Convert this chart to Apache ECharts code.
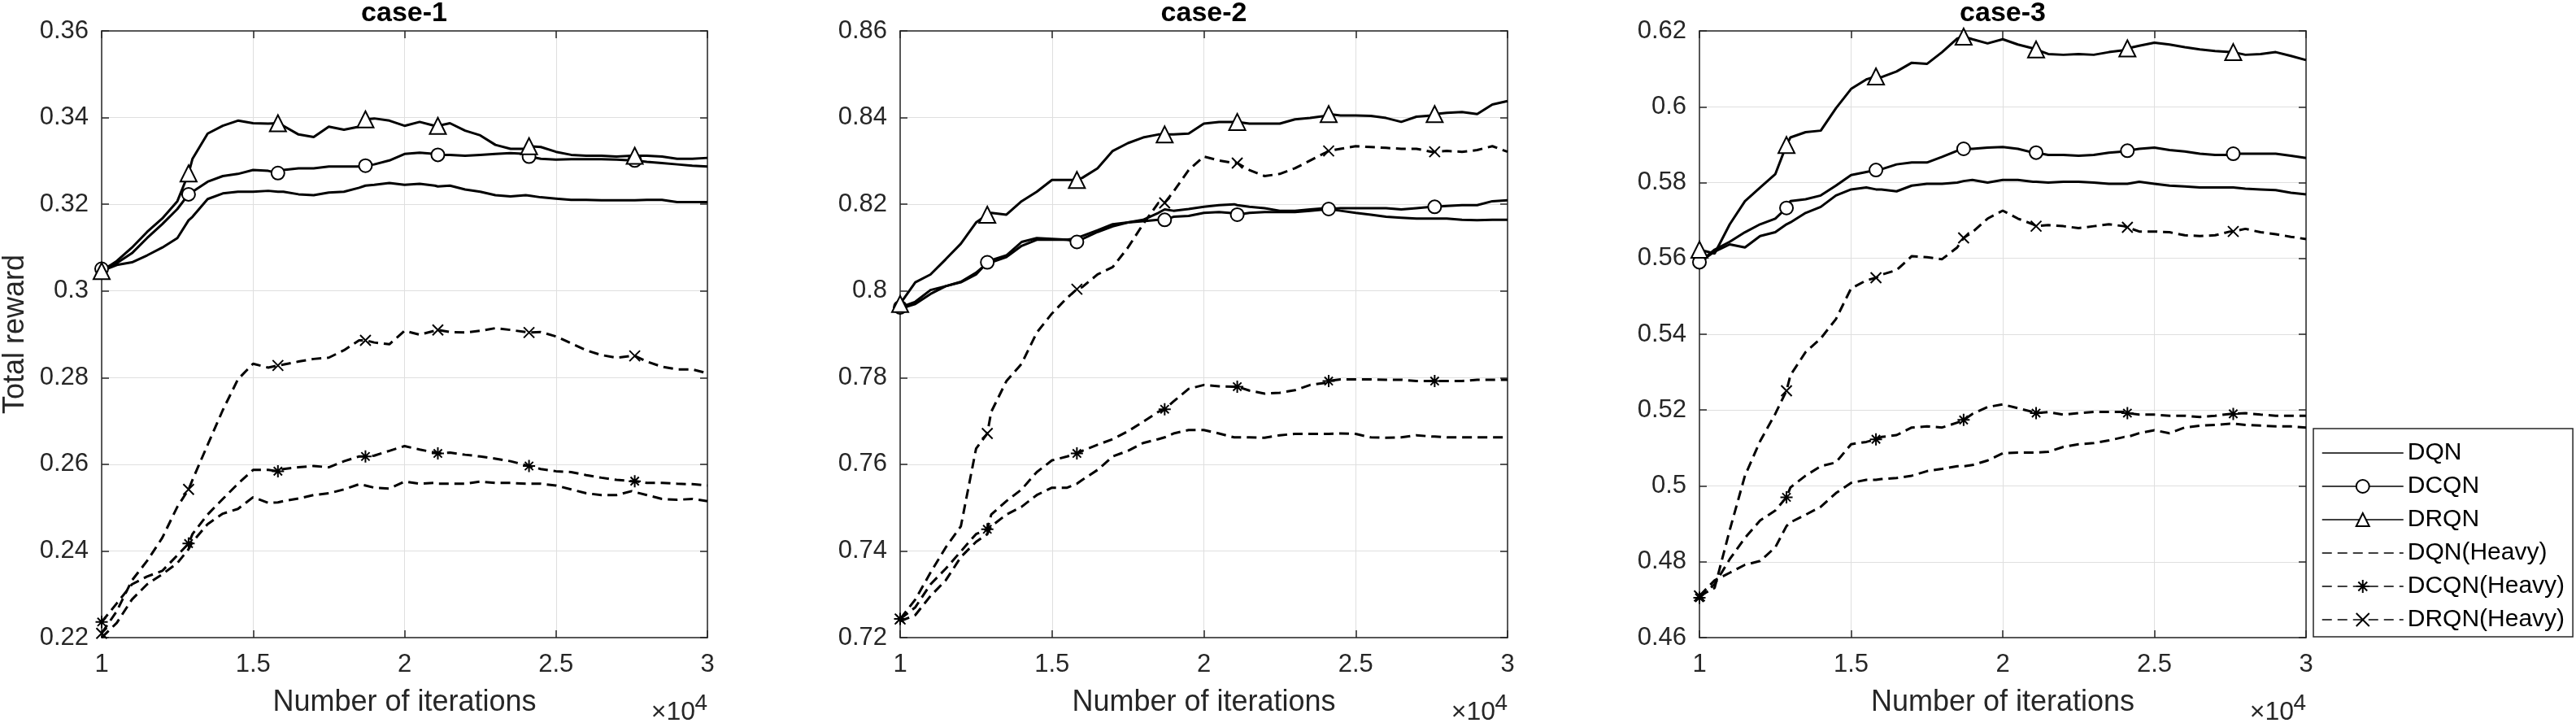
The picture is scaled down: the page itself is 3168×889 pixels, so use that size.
<!DOCTYPE html>
<html>
<head>
<meta charset="utf-8">
<title>Total reward</title>
<style>
html, body { margin: 0; padding: 0; background: #fff; }
#chart { width: 3168px; height: 889px; }
</style>
</head>
<body>
<div id="chart"></div>
<script src="https://cdn.jsdelivr.net/npm/echarts@6/dist/echarts.min.js"></script>
<script>
// iterations (x) and the iterations where markers are drawn
var iters = [10000, 10500, 11000, 11500, 12000, 12500, 12870, 13000, 13500, 14000, 14500, 15000, 15500, 15820, 16000,
  16500, 17000, 17500, 18000, 18500, 18710, 19000, 19500, 20000, 20500, 21000, 21100, 21500, 22000, 22500, 23000,
  23500, 24000, 24110, 24500, 25000, 25500, 26000, 26500, 27000, 27500, 27600, 28000, 28500, 29000, 29500, 30000];
var markerIters = [10000, 12870, 15820, 18710, 21100, 24110, 27600];

var caseNames = ['case-1', 'case-2', 'case-3'];
var seriesNames = ['DQN', 'DCQN', 'DRQN', 'DQN(Heavy)', 'DCQN(Heavy)', 'DRQN(Heavy)'];
var yMin = [0.22, 0.72, 0.46];
var yMax = [0.36, 0.86, 0.62];

// case-1
var case1DQN = [0.3046, 0.3060, 0.3066, 0.3082, 0.3100, 0.3122, 0.3163, 0.3171, 0.3212, 0.3225, 0.3229, 0.3229, 0.3231, 0.3229, 0.3229, 0.3223, 0.3221, 0.3227, 0.3229, 0.3238, 0.3243, 0.3245, 0.3249, 0.3245, 0.3247, 0.3243, 0.3241, 0.3243, 0.3234, 0.3229, 0.3221, 0.3218, 0.3221, 0.3220, 0.3216, 0.3213, 0.3210, 0.3210, 0.3209, 0.3209, 0.3209, 0.3209, 0.3210, 0.3210, 0.3205, 0.3205, 0.3205];
var case1DCQN = [0.3051, 0.3064, 0.3087, 0.3122, 0.3154, 0.3189, 0.3223, 0.3229, 0.3252, 0.3265, 0.3270, 0.3279, 0.3277, 0.3272, 0.3279, 0.3283, 0.3283, 0.3287, 0.3287, 0.3287, 0.3289, 0.3292, 0.3301, 0.3316, 0.3319, 0.3316, 0.3314, 0.3314, 0.3312, 0.3314, 0.3316, 0.3318, 0.3316, 0.3310, 0.3305, 0.3303, 0.3304, 0.3304, 0.3304, 0.3303, 0.3301, 0.3301, 0.3298, 0.3295, 0.3292, 0.3289, 0.3287];
var case1DRQN = [0.3046, 0.3069, 0.3100, 0.3136, 0.3167, 0.3207, 0.3271, 0.3305, 0.3363, 0.3381, 0.3393, 0.3387, 0.3386, 0.3387, 0.3381, 0.3361, 0.3355, 0.3379, 0.3372, 0.3379, 0.3396, 0.3398, 0.3393, 0.3381, 0.3390, 0.3381, 0.3381, 0.3387, 0.3370, 0.3359, 0.3337, 0.3328, 0.3328, 0.3334, 0.3332, 0.3321, 0.3314, 0.3312, 0.3312, 0.3310, 0.3312, 0.3312, 0.3312, 0.3310, 0.3305, 0.3305, 0.3307];
var case1DQNHeavy = [0.2200, 0.2234, 0.2288, 0.2323, 0.2346, 0.2372, 0.2404, 0.2421, 0.2462, 0.2486, 0.2497, 0.2524, 0.2511, 0.2512, 0.2515, 0.2521, 0.2529, 0.2533, 0.2542, 0.2554, 0.2551, 0.2546, 0.2544, 0.2560, 0.2555, 0.2557, 0.2555, 0.2555, 0.2555, 0.2560, 0.2557, 0.2557, 0.2555, 0.2555, 0.2555, 0.2551, 0.2542, 0.2533, 0.2529, 0.2529, 0.2538, 0.2536, 0.2529, 0.2520, 0.2518, 0.2520, 0.2515];
var case1DCQNHeavy = [0.2236, 0.2279, 0.2323, 0.2341, 0.2354, 0.2390, 0.2417, 0.2439, 0.2484, 0.2520, 0.2555, 0.2587, 0.2587, 0.2584, 0.2589, 0.2593, 0.2596, 0.2593, 0.2607, 0.2618, 0.2618, 0.2620, 0.2631, 0.2642, 0.2634, 0.2627, 0.2625, 0.2627, 0.2622, 0.2618, 0.2613, 0.2607, 0.2598, 0.2596, 0.2589, 0.2584, 0.2582, 0.2575, 0.2569, 0.2564, 0.2561, 0.2561, 0.2557, 0.2557, 0.2555, 0.2554, 0.2551];
var case1DRQNHeavy = [0.2210, 0.2261, 0.2332, 0.2377, 0.2430, 0.2502, 0.2542, 0.2564, 0.2645, 0.2725, 0.2796, 0.2832, 0.2823, 0.2828, 0.2830, 0.2837, 0.2843, 0.2846, 0.2863, 0.2886, 0.2886, 0.2881, 0.2877, 0.2908, 0.2899, 0.2908, 0.2910, 0.2905, 0.2904, 0.2908, 0.2914, 0.2910, 0.2905, 0.2904, 0.2905, 0.2895, 0.2879, 0.2863, 0.2852, 0.2846, 0.2850, 0.2850, 0.2837, 0.2825, 0.2819, 0.2819, 0.2810];

// case-2
var case2DQN = [0.7959, 0.7970, 0.7993, 0.8011, 0.8021, 0.8042, 0.8064, 0.8071, 0.8082, 0.8113, 0.8122, 0.8120, 0.8118, 0.8122, 0.8127, 0.8140, 0.8154, 0.8158, 0.8164, 0.8180, 0.8188, 0.8185, 0.8189, 0.8194, 0.8198, 0.8200, 0.8198, 0.8194, 0.8191, 0.8185, 0.8185, 0.8188, 0.8191, 0.8189, 0.8185, 0.8180, 0.8176, 0.8171, 0.8169, 0.8167, 0.8167, 0.8167, 0.8167, 0.8164, 0.8163, 0.8164, 0.8164];
var case2DCQN = [0.7962, 0.7975, 0.8002, 0.8011, 0.8020, 0.8038, 0.8066, 0.8066, 0.8078, 0.8104, 0.8118, 0.8118, 0.8118, 0.8113, 0.8120, 0.8136, 0.8149, 0.8158, 0.8161, 0.8164, 0.8164, 0.8171, 0.8173, 0.8180, 0.8182, 0.8179, 0.8176, 0.8180, 0.8182, 0.8182, 0.8182, 0.8185, 0.8188, 0.8189, 0.8191, 0.8191, 0.8191, 0.8191, 0.8188, 0.8191, 0.8194, 0.8194, 0.8196, 0.8198, 0.8198, 0.8207, 0.8209];
var case2DRQN = [0.7970, 0.8020, 0.8038, 0.8073, 0.8109, 0.8158, 0.8176, 0.8180, 0.8176, 0.8207, 0.8229, 0.8256, 0.8256, 0.8256, 0.8261, 0.8283, 0.8323, 0.8341, 0.8354, 0.8361, 0.8361, 0.8361, 0.8363, 0.8386, 0.8390, 0.8390, 0.8390, 0.8386, 0.8386, 0.8386, 0.8396, 0.8399, 0.8404, 0.8408, 0.8405, 0.8405, 0.8404, 0.8399, 0.8390, 0.8402, 0.8405, 0.8408, 0.8411, 0.8413, 0.8408, 0.8430, 0.8438];
var case2DQNHeavy = [0.7238, 0.7252, 0.7296, 0.7332, 0.7386, 0.7421, 0.7439, 0.7457, 0.7484, 0.7502, 0.7529, 0.7546, 0.7546, 0.7555, 0.7564, 0.7587, 0.7618, 0.7631, 0.7649, 0.7658, 0.7662, 0.7671, 0.7679, 0.7679, 0.7671, 0.7662, 0.7662, 0.7662, 0.7661, 0.7667, 0.7670, 0.7670, 0.7670, 0.7670, 0.7671, 0.7670, 0.7662, 0.7661, 0.7662, 0.7667, 0.7664, 0.7664, 0.7662, 0.7662, 0.7662, 0.7662, 0.7662];
var case2DCQNHeavy = [0.7243, 0.7270, 0.7323, 0.7359, 0.7399, 0.7439, 0.7450, 0.7484, 0.7515, 0.7542, 0.7582, 0.7609, 0.7618, 0.7625, 0.7631, 0.7645, 0.7658, 0.7676, 0.7698, 0.7721, 0.7727, 0.7745, 0.7774, 0.7783, 0.7780, 0.7779, 0.7779, 0.7770, 0.7763, 0.7765, 0.7771, 0.7783, 0.7788, 0.7792, 0.7796, 0.7796, 0.7796, 0.7795, 0.7795, 0.7792, 0.7792, 0.7792, 0.7792, 0.7792, 0.7795, 0.7795, 0.7795];
var case2DRQNHeavy = [0.7243, 0.7288, 0.7350, 0.7408, 0.7457, 0.7636, 0.7671, 0.7721, 0.7792, 0.7832, 0.7904, 0.7948, 0.7984, 0.8004, 0.8009, 0.8038, 0.8055, 0.8100, 0.8154, 0.8203, 0.8203, 0.8229, 0.8279, 0.8310, 0.8301, 0.8295, 0.8295, 0.8279, 0.8265, 0.8270, 0.8283, 0.8301, 0.8319, 0.8323, 0.8328, 0.8334, 0.8332, 0.8330, 0.8328, 0.8328, 0.8321, 0.8321, 0.8323, 0.8321, 0.8325, 0.8334, 0.8321];

// case-3
var case3DQN = [0.5590, 0.5618, 0.5637, 0.5629, 0.5659, 0.5669, 0.5690, 0.5695, 0.5720, 0.5736, 0.5766, 0.5782, 0.5787, 0.5782, 0.5782, 0.5777, 0.5792, 0.5797, 0.5797, 0.5800, 0.5804, 0.5807, 0.5800, 0.5807, 0.5807, 0.5802, 0.5802, 0.5800, 0.5802, 0.5802, 0.5800, 0.5797, 0.5797, 0.5797, 0.5802, 0.5797, 0.5792, 0.5790, 0.5787, 0.5787, 0.5787, 0.5787, 0.5784, 0.5782, 0.5780, 0.5773, 0.5769];
var case3DCQN = [0.5590, 0.5623, 0.5644, 0.5669, 0.5690, 0.5705, 0.5733, 0.5751, 0.5756, 0.5766, 0.5792, 0.5820, 0.5828, 0.5833, 0.5835, 0.5848, 0.5853, 0.5853, 0.5868, 0.5884, 0.5889, 0.5889, 0.5892, 0.5894, 0.5889, 0.5879, 0.5879, 0.5873, 0.5873, 0.5871, 0.5873, 0.5879, 0.5882, 0.5884, 0.5889, 0.5892, 0.5886, 0.5882, 0.5876, 0.5873, 0.5873, 0.5876, 0.5876, 0.5876, 0.5876, 0.5871, 0.5865];
var case3DRQN = [0.5623, 0.5613, 0.5690, 0.5751, 0.5787, 0.5822, 0.5899, 0.5919, 0.5933, 0.5937, 0.5996, 0.6047, 0.6072, 0.6080, 0.6078, 0.6093, 0.6116, 0.6113, 0.6144, 0.6180, 0.6185, 0.6178, 0.6167, 0.6178, 0.6164, 0.6154, 0.6151, 0.6139, 0.6137, 0.6139, 0.6137, 0.6144, 0.6149, 0.6154, 0.6161, 0.6169, 0.6164, 0.6157, 0.6151, 0.6147, 0.6144, 0.6144, 0.6137, 0.6139, 0.6144, 0.6134, 0.6123];
var case3DQNHeavy = [0.4710, 0.4751, 0.4771, 0.4792, 0.4802, 0.4838, 0.4894, 0.4904, 0.4924, 0.4945, 0.4981, 0.5008, 0.5016, 0.5016, 0.5018, 0.5021, 0.5027, 0.5039, 0.5045, 0.5052, 0.5052, 0.5055, 0.5067, 0.5086, 0.5088, 0.5088, 0.5088, 0.5090, 0.5103, 0.5110, 0.5113, 0.5120, 0.5129, 0.5129, 0.5139, 0.5147, 0.5139, 0.5154, 0.5159, 0.5161, 0.5164, 0.5164, 0.5161, 0.5159, 0.5157, 0.5157, 0.5154];
var case3DCQNHeavy = [0.4705, 0.4741, 0.4807, 0.4863, 0.4909, 0.4935, 0.4970, 0.4996, 0.5027, 0.5052, 0.5062, 0.5110, 0.5116, 0.5123, 0.5129, 0.5134, 0.5154, 0.5157, 0.5154, 0.5167, 0.5174, 0.5190, 0.5208, 0.5215, 0.5205, 0.5195, 0.5192, 0.5195, 0.5188, 0.5192, 0.5195, 0.5195, 0.5195, 0.5192, 0.5188, 0.5188, 0.5185, 0.5185, 0.5182, 0.5185, 0.5190, 0.5190, 0.5192, 0.5188, 0.5185, 0.5185, 0.5185];
var case3DRQNHeavy = [0.4710, 0.4731, 0.4884, 0.5027, 0.5118, 0.5190, 0.5251, 0.5292, 0.5353, 0.5389, 0.5440, 0.5521, 0.5542, 0.5549, 0.5557, 0.5569, 0.5606, 0.5603, 0.5598, 0.5629, 0.5654, 0.5669, 0.5705, 0.5726, 0.5705, 0.5690, 0.5685, 0.5688, 0.5685, 0.5680, 0.5685, 0.5690, 0.5685, 0.5682, 0.5671, 0.5671, 0.5669, 0.5661, 0.5659, 0.5661, 0.5671, 0.5671, 0.5678, 0.5669, 0.5664, 0.5657, 0.5651];

var caseData = [
  [case1DQN, case1DCQN, case1DRQN, case1DQNHeavy, case1DCQNHeavy, case1DRQNHeavy],
  [case2DQN, case2DCQN, case2DRQN, case2DQNHeavy, case2DCQNHeavy, case2DRQNHeavy],
  [case3DQN, case3DCQN, case3DRQN, case3DQNHeavy, case3DCQNHeavy, case3DRQNHeavy]
];

var FONT = '"Liberation Sans", Arial, Helvetica, sans-serif';
var AX = '#262626';
var gridLeft = [124, 1107, 2090];
var gridWidth = [746, 747, 746];
var gridTop = 38, gridSize = 746;

// marker look per series
var looks = [
  { symbol: 'circle', size: 0, dashed: false, hidden: true },
  { symbol: 'emptyCircle', size: 16, dashed: false },
  { symbol: 'emptyTriangle', size: 20, dashed: false },
  { symbol: 'circle', size: 0, dashed: true, hidden: true },
  { symbol: 'emptypath://M5,0L5,10M0,5L10,5M1.6,1.6L8.4,8.4M8.4,1.6L1.6,8.4', size: 15, dashed: true },
  { symbol: 'emptypath://M0,0L10,10M10,0L0,10', size: 13, dashed: true }
];

function markSize(size) {
  return function (val) {
    return markerIters.indexOf(val[0]) >= 0 ? size : 0;
  };
}

var grids = [], xAxes = [], yAxes = [], series = [], titles = [], graphics = [];

for (var g = 0; g < 3; g++) {
  grids.push({ left: gridLeft[g], top: gridTop, width: gridWidth[g], height: gridSize });

  xAxes.push({
    type: 'value', gridIndex: g, min: 10000, max: 30000, interval: 5000,
    name: 'Number of iterations', nameLocation: 'middle', nameGap: 62,
    nameTextStyle: { fontSize: 36, color: AX, fontFamily: FONT },
    axisLine: { show: true, lineStyle: { color: AX, width: 1.5 } },
    axisTick: { show: true, inside: true, length: 9, lineStyle: { color: AX, width: 1.5 } },
    axisLabel: { fontSize: 31, color: AX, fontFamily: FONT, margin: 18,
      formatter: function (v) { return String(v / 10000); } },
    splitLine: { show: true, lineStyle: { color: '#dfdfdf', width: 1 } }
  });
  xAxes.push({
    type: 'value', gridIndex: g, position: 'top', min: 10000, max: 30000, interval: 5000,
    axisLine: { show: true, lineStyle: { color: AX, width: 1.5 } },
    axisTick: { show: true, inside: true, length: 9, lineStyle: { color: AX, width: 1.5 } },
    axisLabel: { show: false }, splitLine: { show: false }
  });

  yAxes.push({
    type: 'value', gridIndex: g, min: yMin[g], max: yMax[g], interval: 0.02,
    name: g === 0 ? 'Total reward' : '', nameLocation: 'middle', nameGap: 88,
    nameTextStyle: { fontSize: 36, color: AX, fontFamily: FONT },
    axisLine: { show: true, lineStyle: { color: AX, width: 1.5 } },
    axisTick: { show: true, inside: true, length: 9, lineStyle: { color: AX, width: 1.5 } },
    axisLabel: { fontSize: 31, color: AX, fontFamily: FONT, margin: 16 },
    splitLine: { show: true, lineStyle: { color: '#dfdfdf', width: 1 } }
  });
  yAxes.push({
    type: 'value', gridIndex: g, position: 'right', min: yMin[g], max: yMax[g], interval: 0.02,
    axisLine: { show: true, lineStyle: { color: AX, width: 1.5 } },
    axisTick: { show: true, inside: true, length: 9, lineStyle: { color: AX, width: 1.5 } },
    axisLabel: { show: false }, splitLine: { show: false }
  });

  titles.push({
    text: caseNames[g], left: gridLeft[g] + gridWidth[g] / 2, top: 0, textAlign: 'center', padding: 0,
    textStyle: { fontSize: 34, fontWeight: 'bold', color: '#000', fontFamily: FONT }
  });

  var right = gridLeft[g] + gridWidth[g];
  graphics.push({ type: 'text', x: right - 15, y: 892, silent: true,
    style: { text: '×10', fill: AX, font: '32px ' + FONT, align: 'right', verticalAlign: 'bottom' } });
  graphics.push({ type: 'text', x: right, y: 851, silent: true,
    style: { text: '4', fill: AX, font: '28px ' + FONT, align: 'right', verticalAlign: 'top' } });

  for (var s = 0; s < 6; s++) {
    var look = looks[s];
    var pts = [];
    for (var i = 0; i < iters.length; i++) pts.push([iters[i], caseData[g][s][i]]);
    series.push({
      type: 'line', name: seriesNames[s], xAxisIndex: g * 2, yAxisIndex: g * 2, data: pts,
      symbol: look.symbol, symbolSize: markSize(look.size), showAllSymbol: true,
      lineStyle: { color: '#000', width: 3, type: look.dashed ? [12, 7] : 'solid' },
      itemStyle: { color: look.hidden ? 'rgba(0,0,0,0)' : '#000', borderWidth: 2.5 },
      emphasis: { disabled: true }, silent: true, animation: false
    });
  }
}

var chart = echarts.init(document.getElementById('chart'));
chart.setOption({
  backgroundColor: '#fff',
  animation: false,
  title: titles,
  grid: grids,
  xAxis: xAxes,
  yAxis: yAxes,
  legend: {
    orient: 'vertical', left: 2845, top: 527, align: 'left',
    itemWidth: 100, itemHeight: 20, itemGap: 11,
    padding: [15, 10, 6, 10],
    borderColor: AX, borderWidth: 1.5, backgroundColor: '#fff',
    textStyle: { fontSize: 30, color: '#000', fontFamily: FONT },
    lineStyle: { width: 1.5 },
    data: seriesNames
  },
  graphic: graphics,
  series: series
});
</script>
</body>
</html>
